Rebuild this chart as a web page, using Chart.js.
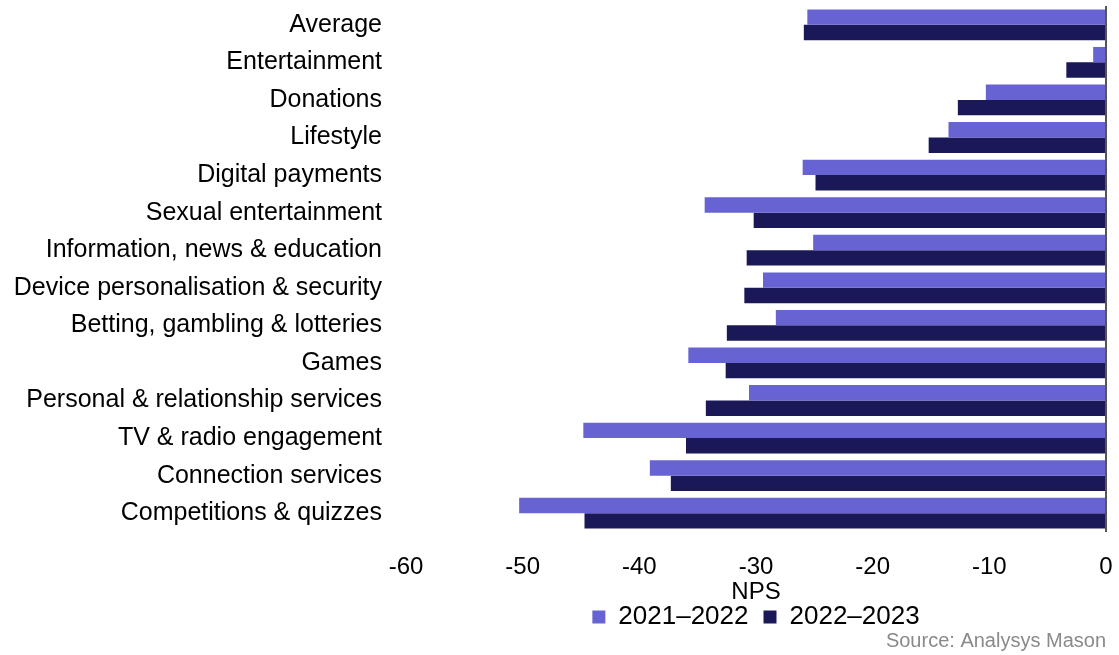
<!DOCTYPE html>
<html>
<head>
<meta charset="utf-8">
<script src="https://cdn.jsdelivr.net/npm/chart.js@4/dist/chart.umd.min.js"></script>
<style>
  html, body { margin: 0; padding: 0; background: #ffffff; }
  #wrap { width: 1119px; height: 655px; position: relative; }
</style>
</head>
<body>
<div id="wrap"><canvas id="npsChart"></canvas></div>
<script>
// Net Promoter Score by service category
const categories = [
  'Average',
  'Entertainment',
  'Donations',
  'Lifestyle',
  'Digital payments',
  'Sexual entertainment',
  'Information, news & education',
  'Device personalisation & security',
  'Betting, gambling & lotteries',
  'Games',
  'Personal & relationship services',
  'TV & radio engagement',
  'Connection services',
  'Competitions & quizzes'
];
const nps2021_2022 = [-25.6, -1.1, -10.3, -13.5, -26.0, -34.4, -25.1, -29.4, -28.3, -35.8, -30.6, -44.8, -39.1, -50.3];
const nps2022_2023 = [-25.9, -3.4, -12.7, -15.2, -24.9, -30.2, -30.8, -31.0, -32.5, -32.6, -34.3, -36.0, -37.3, -44.7];
const seriesLabels = ['2021\u20132022', '2022\u20132023'];
const xMin = -60, xMax = 0, xStep = 10;

const FONT = "'Liberation Sans', Arial, sans-serif";

// Centre the legend row under the plotting area rather than the whole canvas
const legendUnderPlot = {
  id: 'legendUnderPlot',
  afterLayout(chart) {
    const lg = chart.legend;
    if (!lg) return;
    lg.left = chart.chartArea.left;
    lg.right = chart.chartArea.right;
    lg.width = lg.right - lg.left;
  }
};

new Chart(document.getElementById('npsChart'), {
  type: 'bar',
  data: {
    labels: categories,
    datasets: [
      { label: seriesLabels[0], data: nps2021_2022, backgroundColor: '#6763d2', borderWidth: 0 },
      { label: seriesLabels[1], data: nps2022_2023, backgroundColor: '#1b1858', borderWidth: 0 }
    ]
  },
  plugins: [legendUnderPlot],
  options: {
    indexAxis: 'y',
    responsive: true,
    maintainAspectRatio: false,
    animation: false,
    layout: { padding: { top: 6, right: 13, bottom: 2, left: 0 } },
    datasets: { bar: { categoryPercentage: 0.82, barPercentage: 1.0 } },
    scales: {
      x: {
        min: xMin,
        max: xMax,
        ticks: { stepSize: xStep, color: '#000', padding: 21, maxRotation: 0, font: { family: FONT, size: 24 } },
        grid: {
          drawTicks: false,
          lineWidth: 2,
          color: (c) => (c.tick && c.tick.value === 0 ? '#555555' : 'rgba(0,0,0,0)')
        },
        border: { display: false },
        title: { display: true, text: 'NPS', color: '#000', padding: { top: 0, bottom: -18 }, font: { family: FONT, size: 24 } },
        afterFit: (scale) => {
          scale.height = 57;
          scale.paddingLeft = 0;
          scale.paddingRight = 0;
        }
      },
      y: {
        ticks: { color: '#000', padding: 24, autoSkip: false, font: { family: FONT, size: 25 } },
        grid: { display: false, drawTicks: false },
        border: { display: false },
        afterFit: (scale) => {
          scale.width = 406;
          scale.paddingTop = 0;
          scale.paddingBottom = 0;
        }
      }
    },
    plugins: {
      legend: {
        position: 'bottom',
        labels: { boxWidth: 13, boxHeight: 13, padding: 15, color: '#000', font: { family: FONT, size: 26 } }
      },
      subtitle: {
        display: true,
        position: 'bottom',
        align: 'end',
        text: 'Source: Analysys Mason',
        color: '#8a8a8a',
        padding: { top: -11, bottom: 0 },
        font: { family: FONT, size: 20 }
      },
      tooltip: { enabled: false }
    }
  }
});
</script>
</body>
</html>
